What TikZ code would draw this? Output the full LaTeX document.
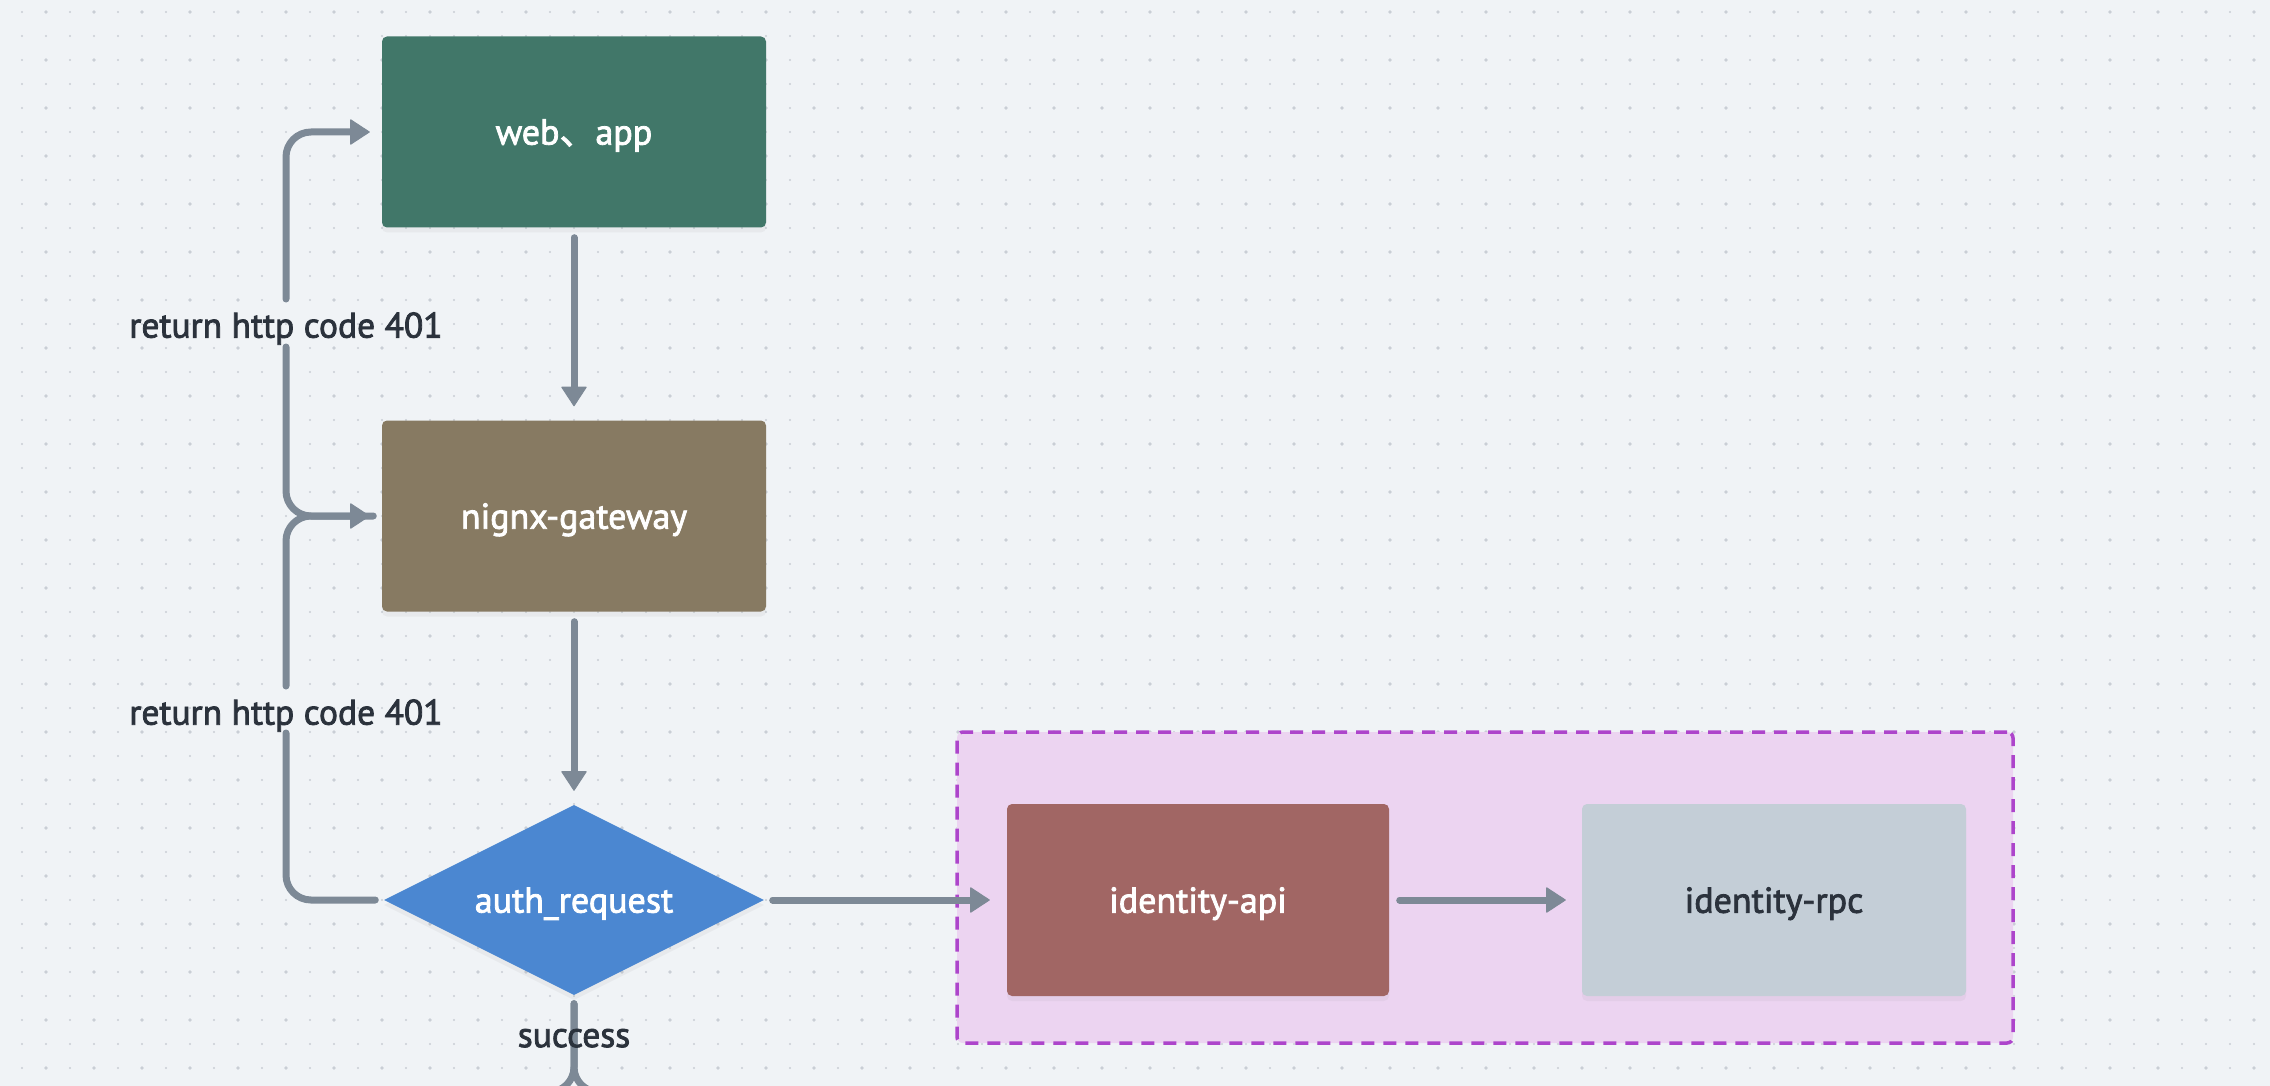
\documentclass[tikz,border=0pt]{standalone}
\usepackage{fontspec}
\setmainfont{PT Sans}
\newfontfamily\medfont{PT Sans}[FakeBold=2.2]
\newfontfamily\cjk{Noto Sans CJK SC}[FakeBold=2.2]
\usetikzlibrary{arrows.meta,shapes.geometric,shadows}
\definecolor{bg}{HTML}{F0F3F6}
\definecolor{dotc}{HTML}{C9CED5}
\definecolor{webc}{HTML}{417769}
\definecolor{gatec}{HTML}{877A62}
\definecolor{authc}{HTML}{4B87D1}
\definecolor{apic}{HTML}{A16664}
\definecolor{rpcc}{HTML}{C4CED7}
\definecolor{grpfill}{HTML}{ECD4F1}
\definecolor{grpline}{HTML}{AD45CB}
\definecolor{linec}{HTML}{7D8996}
\definecolor{txtc}{HTML}{2B323C}
\tikzset{
  nodefont/.style={font=\medfont\fontsize{36pt}{42pt}\selectfont},
  lblfont/.style={font=\medfont\fontsize{35.5pt}{42pt}\selectfont},
  box/.style={rectangle, rounded corners=5pt, inner sep=0pt, nodefont, text=white,
    text depth=0pt, minimum width=384pt, minimum height=191pt,
    drop shadow={shadow xshift=0pt, shadow yshift=-5pt, opacity=0.08}},
  dmd/.style={diamond, aspect=2, inner sep=0pt, minimum width=380pt, minimum height=190pt,
    nodefont, text=white, text depth=0pt,
    drop shadow={shadow xshift=0pt, shadow yshift=-5pt, opacity=0.08}},
  grp/.style={rectangle, rounded corners=6pt, fill=grpfill, draw=grpline, line width=3.5pt,
    dash pattern=on 13pt off 9pt, inner sep=0pt},
  line/.style={draw=linec, line width=7pt, line cap=round},
  arr/.style={line, -{Triangle[length=20pt,width=26pt,line width=1pt,round]}},
  lbl/.style={lblfont, text=txtc, inner sep=0pt, text depth=0pt},
}
\begin{document}
\begin{tikzpicture}[x=1pt,y=-1pt]
\useasboundingbox (0,0) rectangle (2270,1086);
\clip (0,0) rectangle (2270,1086);
\fill[bg] (0,0) rectangle (2270,1086);
% dot grid
\foreach \j in {0,...,44} {
  \fill[dotc] \foreach \i in {0,...,94} { ({22+24*\i},{12+24*\j}) circle (1.1) };
}
\foreach \j in {0,...,22} {
  \fill[dotc] \foreach \i in {0,...,46} { ({46+48*\i},{12+48*\j}) circle (1.9) };
}
% group container
\node[grp, minimum width=1056pt, minimum height=311pt] (grp) at (1485,887.5) {};
% nodes
\node[box, fill=webc] (web) at (574,132) {web{\cjk 、}app};
\node[box, fill=gatec] (gate) at (574,516) {nignx-gateway};
\node[dmd, fill=authc] (auth) at (574,900) {auth\_request};
\node[box, fill=apic, minimum width=382pt, minimum height=192pt] (api) at (1198,900) {identity-api};
\node[box, fill=rpcc, text=txtc, minimum width=384pt, minimum height=192pt] (rpc) at (1774,900) {identity-rpc};
% gap coordinates on the left loops
\coordinate (gA) at (286,347);
\coordinate (gB) at (286,299);
\coordinate (gC) at (286,733);
\coordinate (gD) at (286,686);
\coordinate (f0) at (574,1092);
\coordinate (fl) at (300,1092);
\coordinate (fr) at (850,1092);
% main flow
\draw[arr, shorten <=10pt, shorten >=14pt] (web.south) -- (gate.north);
\draw[arr, shorten <=10pt, shorten >=14pt] (gate.south) -- (auth.north);
\draw[arr, shorten <=8.5pt, shorten >=17pt] (auth.east) -- (api.west);
\draw[arr, shorten <=10.5pt, shorten >=16pt] (api.east) -- (rpc.west);
% return loops
\draw[line, rounded corners=25pt, shorten <=8.5pt] (gate.west) -| (gA);
\draw[arr, rounded corners=25pt, shorten >=12pt] (gB) |- (web.west);
\draw[line, rounded corners=25pt, shorten <=8.5pt] (auth.west) -| (gC);
\draw[arr, rounded corners=25pt, shorten >=12pt] (gD) |- (gate.west);
\node[lbl] (l1) at (286,325) {return http code 401};
\node[lbl] (l2) at (286,712) {return http code 401};
% success fork
\draw[line, rounded corners=25pt, shorten <=8.5pt] (auth.south) -- (f0) -- (fl);
\draw[line, rounded corners=25pt, shorten <=8.5pt] (auth.south) -- (f0) -- (fr);
\node[lbl] (l3) at (574,1038) {success};
\end{tikzpicture}
\end{document}
